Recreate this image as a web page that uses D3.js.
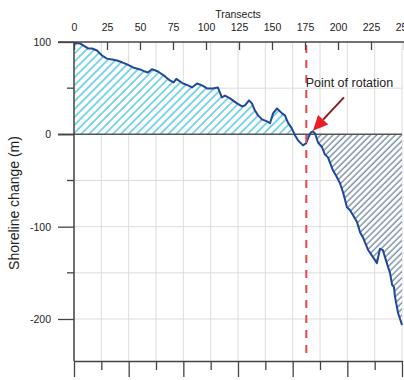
<!DOCTYPE html>
<html lang="en">
	<head>
		<meta charset="utf-8">
		<title>Shoreline change</title>
		<script src="https://d3js.org/d3.v7.min.js"></script>
		<style type="text/css">
		body { margin: 0; background: #fff; }
		text {
			font-family: "Liberation Sans", Arial, sans-serif;
			fill: #222;
		}
		</style>
	</head>
	<body>
		<div id="chart"></div>
		<script type="text/javascript">
		// transect number and shoreline change (m)
		var transects = [0, 4.5, 7.6, 10.6, 13.6, 17.4, 21.2, 25, 28.8, 32.6, 36.4, 40.2, 44.7, 50, 53.8, 56, 59,
			63.6, 69, 72.7, 75.5, 77.5, 82.6, 86.4, 89.4, 93.2, 97, 100.8, 105.3, 109, 112, 114.4, 118.2,
			123.5, 127.3, 129.5, 132.6, 134.8, 137, 139.4, 142.4, 146.2, 148.5, 150.8, 153.8, 157.6, 159.8,
			162, 165, 167.4, 169.7, 173.5, 175.8, 177.3, 179.5, 181, 182.6, 184.8, 187.9, 190, 192.4, 194,
			196.2, 199.2, 201.5, 203.8, 206.8, 209, 211.4, 214.4, 216.7, 219, 222.7, 226.5, 229.5, 231.8,
			234, 237, 239.4, 241, 242.4, 243.2, 245.5, 248.5];
		var change = [99, 98.4, 95.7, 93, 93, 90.8, 85.4, 82, 81, 80, 78, 75.7, 72.4, 70.3, 68, 67, 70.6,
			68, 62.7, 58.4, 56.2, 60, 55, 53, 50.8, 55, 53, 49.7, 49.7, 50.8, 40, 42, 39,
			33.5, 30.3, 31.4, 36.8, 33.5, 26, 20.5, 16.2, 14, 12, 22.7, 28, 22.7, 20.5,
			13, 6.5, -1, -6.5, -12, -9.7, -4.3, 2.2, 3.2, 1, -8.6, -14, -21.6, -25, -31,
			-39, -46.5, -53, -62.7, -79, -82, -87.6, -95, -106, -112, -125, -133, -139.5, -124,
			-125.4, -139.5, -150, -163, -165.4, -176, -193.5, -206.5];

		var topTicks = [0, 25, 50, 75, 100, 125, 150, 175, 200, 225, 250];
		var yMajor = [100, 0, -100, -200];
		var yMinor = [50, -50, -150];
		var gridY = [50, -50, -100, -150, -200];
		var bottomTicks = [0, 1, 2, 3, 4, 5, 6, 7, 8, 9, 10, 11, 12];

		var rotation = 176;             // transect of the dashed line
		var arrowTip = [181, 4];
		var arrowTail = [204.5, 40];
		var labelPos = [175.5, 51];

		//Width and height
		var w = 404;
		var h = 380;
		var padL = 74, padR = 402, padT = 42, padB = 361;

		var data = transects.map((t, i) => ({ t: t, v: change[i] }));

		//Scales
		var xScale = d3.scaleLinear().domain([0, 250]).range([padL, 404]);
		var xBottom = d3.scaleLinear().domain([0, 12]).range([padL, padR]);
		var yScale = d3.scaleLinear().domain([-245.5, 100]).range([padB, padT]);

		var svg = d3.select("#chart")
		.append("svg")
		.attr("width", w)
		.attr("height", h);

		var defs = svg.append("defs");

		// hatch patterns
		function hatch(id, gap, color, sw) {
			var p = defs.append("pattern")
			.attr("id", id)
			.attr("patternUnits", "userSpaceOnUse")
			.attr("width", gap)
			.attr("height", gap)
			.attr("patternTransform", "rotate(45)");
			p.append("rect").attr("width", gap).attr("height", gap).attr("fill", "#fff");
			p.append("line")
			.attr("x1", 1).attr("y1", 0).attr("x2", 1).attr("y2", gap)
			.attr("stroke", color)
			.attr("stroke-width", sw);
		}
		hatch("hatchPos", 5.6, "#62cde2", 1.6);
		hatch("hatchNeg", 4.4, "#56708f", 1.1);

		defs.append("clipPath").attr("id", "clipPos")
		.append("rect")
		.attr("x", padL).attr("y", padT)
		.attr("width", xScale(rotation) - padL)
		.attr("height", yScale(0) - padT);

		defs.append("clipPath").attr("id", "clipNeg")
		.append("rect")
		.attr("x", xScale(rotation)).attr("y", yScale(0))
		.attr("width", padR - xScale(rotation))
		.attr("height", padB - yScale(0));

		// grid
		svg.append("g")
		.selectAll("line")
		.data(bottomTicks)
		.enter()
		.append("line")
		.attr("x1", d => xBottom(d)).attr("x2", d => xBottom(d))
		.attr("y1", padT).attr("y2", padB)
		.attr("stroke", "#dcdcdc")
		.attr("stroke-width", 1);

		svg.append("g")
		.selectAll("line")
		.data(gridY)
		.enter()
		.append("line")
		.attr("x1", padL).attr("x2", padR)
		.attr("y1", d => yScale(d)).attr("y2", d => yScale(d))
		.attr("stroke", "#dcdcdc")
		.attr("stroke-width", 1);

		// hatched areas
		var area = d3.area()
		.x(d => xScale(d.t))
		.y0(yScale(0))
		.y1(d => yScale(d.v));

		svg.append("path")
		.datum(data)
		.attr("d", area)
		.attr("fill", "url(#hatchPos)")
		.attr("clip-path", "url(#clipPos)");

		svg.append("path")
		.datum(data)
		.attr("d", area)
		.attr("fill", "url(#hatchNeg)")
		.attr("clip-path", "url(#clipNeg)");

		// zero line
		svg.append("line")
		.attr("x1", 58).attr("x2", padR)
		.attr("y1", yScale(0)).attr("y2", yScale(0))
		.attr("stroke", "#555")
		.attr("stroke-width", 1.5);

		// shoreline
		svg.append("path")
		.datum(data)
		.attr("d", d3.line().x(d => xScale(d.t)).y(d => yScale(d.v)))
		.attr("fill", "none")
		.attr("stroke", "#21479a")
		.attr("stroke-width", 2)
		.attr("stroke-linejoin", "round");

		// point of rotation
		svg.append("line")
		.attr("x1", xScale(rotation)).attr("x2", xScale(rotation))
		.attr("y1", padT + 3).attr("y2", padB - 4)
		.attr("stroke", "#e8464a")
		.attr("stroke-width", 2)
		.attr("stroke-dasharray", "8,7");

		//Top axis
		var topAxis = svg.append("g")
		.attr("transform", "translate(0," + padT + ")")
		.call(d3.axisTop(xScale).tickValues(topTicks).tickSizeInner(-8).tickSizeOuter(0).tickPadding(11));
		topAxis.select(".domain").attr("d", "M58,0H404").attr("stroke", "#444").attr("stroke-width", 1.5);
		topAxis.selectAll(".tick line").attr("stroke", "#444").attr("stroke-width", 1.3);
		topAxis.selectAll(".tick text").style("font-size", "10.5px").attr("fill", "#222");

		svg.append("text")
		.attr("x", 238)
		.attr("y", 18)
		.attr("text-anchor", "middle")
		.style("font-size", "10.5px")
		.text("Transects");

		//Left axis
		var leftAxis = svg.append("g")
		.attr("transform", "translate(" + padL + ",0)")
		.call(d3.axisLeft(yScale).tickValues(yMajor).tickFormat(d => String(d))
			.tickSizeInner(16).tickSizeOuter(0).tickPadding(7));
		leftAxis.select(".domain").attr("d", "M0," + padT + "V" + padB).attr("stroke", "#444").attr("stroke-width", 1.5);
		leftAxis.selectAll(".tick line").attr("stroke", "#444").attr("stroke-width", 1.3);
		leftAxis.selectAll(".tick text").style("font-size", "10.5px").attr("fill", "#222");

		svg.append("g")
		.selectAll("line")
		.data(yMinor)
		.enter()
		.append("line")
		.attr("x1", padL - 7).attr("x2", padL)
		.attr("y1", d => yScale(d)).attr("y2", d => yScale(d))
		.attr("stroke", "#444")
		.attr("stroke-width", 1.3);

		svg.append("text")
		.attr("transform", "translate(19,203) rotate(-90)")
		.attr("text-anchor", "middle")
		.style("font-size", "14px")
		.attr("fill", "#444")
		.text("Shoreline change (m)");

		//Bottom axis (labels fall outside the picture)
		var bottomAxis = svg.append("g")
		.attr("transform", "translate(0," + padB + ")")
		.call(d3.axisBottom(xBottom).tickValues(bottomTicks).tickSizeOuter(0).tickFormat(""));
		bottomAxis.select(".domain").attr("stroke", "#444").attr("stroke-width", 1.5);
		bottomAxis.selectAll(".tick line")
		.attr("y2", d => d % 2 === 0 ? 16 : 9)
		.attr("stroke", "#444")
		.attr("stroke-width", 1.3);

		// annotation
		svg.append("text")
		.attr("x", xScale(labelPos[0]))
		.attr("y", yScale(labelPos[1]))
		.style("font-size", "12.5px")
		.attr("fill", "#333")
		.text("Point of rotation");

		var tipX = xScale(arrowTip[0]), tipY = yScale(arrowTip[1]);
		var tailX = xScale(arrowTail[0]), tailY = yScale(arrowTail[1]);
		var ang = Math.atan2(tipY - tailY, tipX - tailX);
		var headLen = 15, headW = 7;
		var bx = tipX - headLen * Math.cos(ang), by = tipY - headLen * Math.sin(ang);

		svg.append("line")
		.attr("x1", tailX).attr("y1", tailY)
		.attr("x2", bx).attr("y2", by)
		.attr("stroke", "#8e1b1f")
		.attr("stroke-width", 2);

		svg.append("path")
		.attr("d", "M" + tipX + "," + tipY +
			"L" + (bx + headW * Math.sin(ang)) + "," + (by - headW * Math.cos(ang)) +
			"L" + (bx - headW * Math.sin(ang)) + "," + (by + headW * Math.cos(ang)) + "Z")
		.attr("fill", "#ee1c24");
		</script>
	</body>
</html>
